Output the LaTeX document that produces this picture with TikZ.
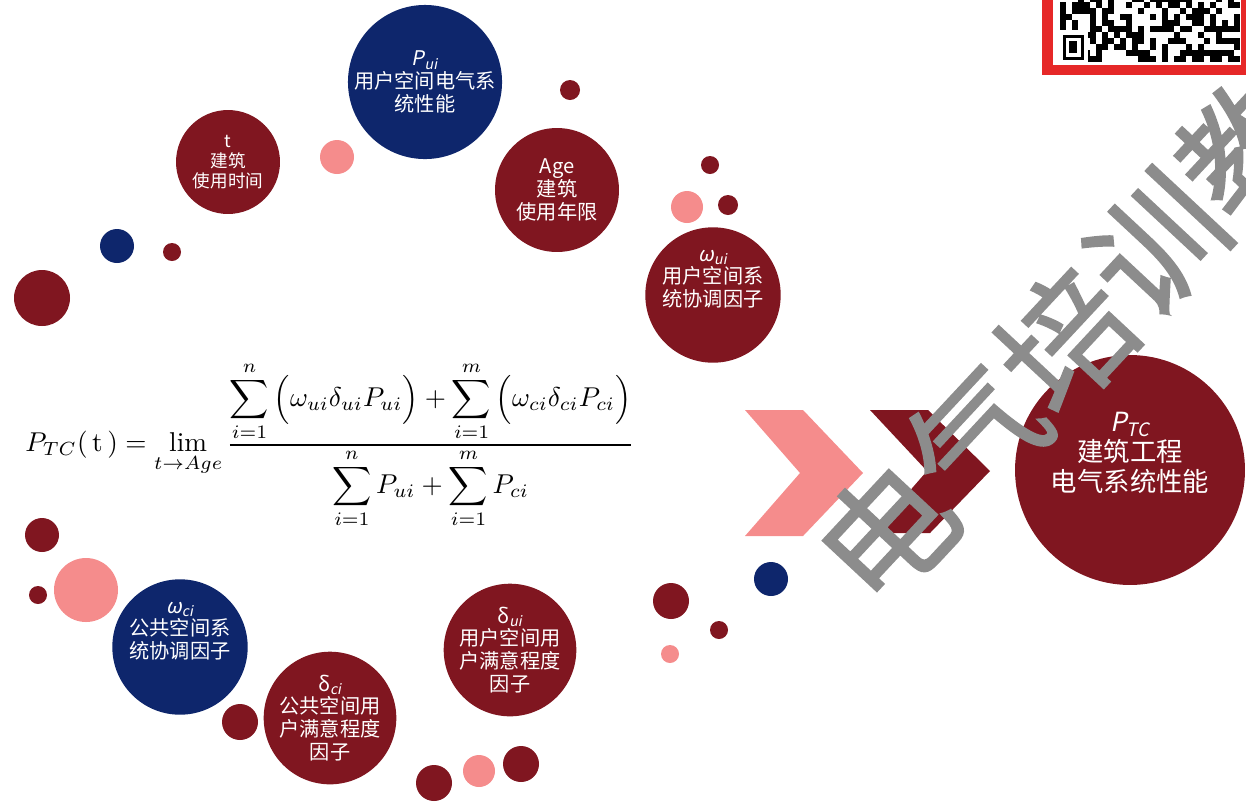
\documentclass[tikz,border=0pt]{standalone}
\usepackage{amsmath, amssymb}
\usepackage{graphicx}
\usepackage{fontspec}
\usepackage{tikz}
\usetikzlibrary{positioning}
\usepackage{xcolor}

\newfontfamily\cjk{Noto Sans CJK SC}
\newfontfamily\cjksl{Noto Sans CJK SC}[FakeSlant=0.2]
\newfontfamily\wmfont{Noto Sans CJK SC}[FakeBold=1.2]

\definecolor{bubred}{RGB}{128,22,32}
\definecolor{bubblue}{RGB}{14,38,108}
\definecolor{bubpink}{RGB}{245,140,140}
\definecolor{wmgray}{RGB}{140,140,140}
\definecolor{qrred}{RGB}{230,40,40}

\newcommand{\symb}[2]{{\cjksl #1}\textsubscript{\cjksl #2}}

\begin{document}
\begin{tikzpicture}[x=0.02cm, y=-0.02cm,
	bubble/.style={circle, fill=#1, text=white, align=center, inner sep=0pt,
		font=\cjk\fontsize{11.5}{13}\selectfont},
	dot/.style={fill=#1}]
	\useasboundingbox (0,0) rectangle (1246,802);

	% qr code corner
	\fill[qrred] (1042,-10) rectangle (1260,75);
	\fill[white] (1053,-10) rectangle (1241,65);
	\pgfmathsetseed{7}
	\foreach \i in {0,...,29}
		\foreach \j in {0,...,10} {
			\pgfmathparse{rnd}
			\ifdim\pgfmathresult pt>0.45pt
				\fill[black] (1060+6*\i,56-6*\j) rectangle +(6,6);
			\fi
		}
	\fill[white] (1058,30) rectangle (1088,63);
	\draw[black, line width=0.06cm] (1064,36) rectangle (1082,58);
	\fill[black] (1069,41) rectangle (1077,53);

	% small dots
	\foreach \x/\y/\r/\c in {337/157/17/bubpink, 570/90/10/bubred, 710/165/9/bubred,
		687/207/16/bubpink, 728/205/10/bubred, 117/246/17/bubblue, 172/252/9/bubred,
		42/298/28/bubred, 42/535/17/bubred, 38/595/9/bubred, 86/590/32/bubpink,
		240/722/18/bubred, 434/783/18/bubred, 479/771/16/bubpink, 521/764/18/bubred,
		671/601/18/bubred, 719/630/9/bubred, 670/654/9/bubpink, 771/579/17/bubblue}
		\fill[dot=\c] (\x,\y) circle[radius=\r*0.02cm];

	% factor bubbles
	\node[bubble=bubblue, minimum size=3.08cm] (Pui) at (425,82)
		{\symb{P}{ui}\\用户空间电气系\\统性能};
	\node[bubble=bubred, minimum size=2.08cm, font=\cjk\fontsize{10}{11.5}\selectfont] (t) at (228,162)
		{t\\建筑\\使用时间};
	\node[bubble=bubred, minimum size=2.48cm] (Age) at (557,190)
		{Age\\建筑\\使用年限};
	\node[bubble=bubred, minimum size=2.6cm] (wui) at (713,295)
		{\symb{ω}{ui}\\用户空间系\\统协调因子\\[6pt]};
	\node[bubble=bubblue, minimum size=2.48cm] (wci) at (180,647)
		{\symb{ω}{ci}\\公共空间系\\统协调因子\\[6pt]};
	\node[bubble=bubred, minimum size=2.48cm] (dci) at (330,718)
		{{\cjk δ}\textsubscript{\cjksl ci}\\公共空间用\\户满意程度\\因子};
	\node[bubble=bubred, minimum size=2.6cm] (dui) at (510,650)
		{{\cjk δ}\textsubscript{\cjksl ui}\\用户空间用\\户满意程度\\因子};

	% result
	\fill[bubpink] (745,410) -- (803,410) -- (863,473) -- (803,536) -- (745,536) -- (800,473) -- cycle;
	\fill[bubred] (870,410) -- (928,410) -- (990,471) -- (930,533) -- (873,533) -- (927,471) -- cycle;
	\node[bubble=bubred, minimum size=4.6cm, font=\cjk\fontsize{15}{17}\selectfont] (PTC) at (1130,470)
		{\symb{P}{TC}\\建筑工程\\电气系统性能\\[4pt]};

	% formula
	\node[inner sep=0pt] (formula) at (330,445) {\scalebox{1.55}{$\displaystyle
		P_{TC}(\,\mathrm{t}\,) = \lim_{t\to Age}
		\frac{\displaystyle\sum_{i=1}^{n}\Big(\omega_{ui}\delta_{ui}P_{ui}\Big)
			+ \sum_{i=1}^{m}\Big(\omega_{ci}\delta_{ci}P_{ci}\Big)}
		{\displaystyle\sum_{i=1}^{n}P_{ui} + \sum_{i=1}^{m}P_{ci}}$}};

	% watermark
	\node[text=wmgray, rotate=47, inner sep=0pt, font=\wmfont\fontsize{75}{75}\selectfont] (wm) at (1066,340)
		{电气培训教};
\end{tikzpicture}
\end{document}
